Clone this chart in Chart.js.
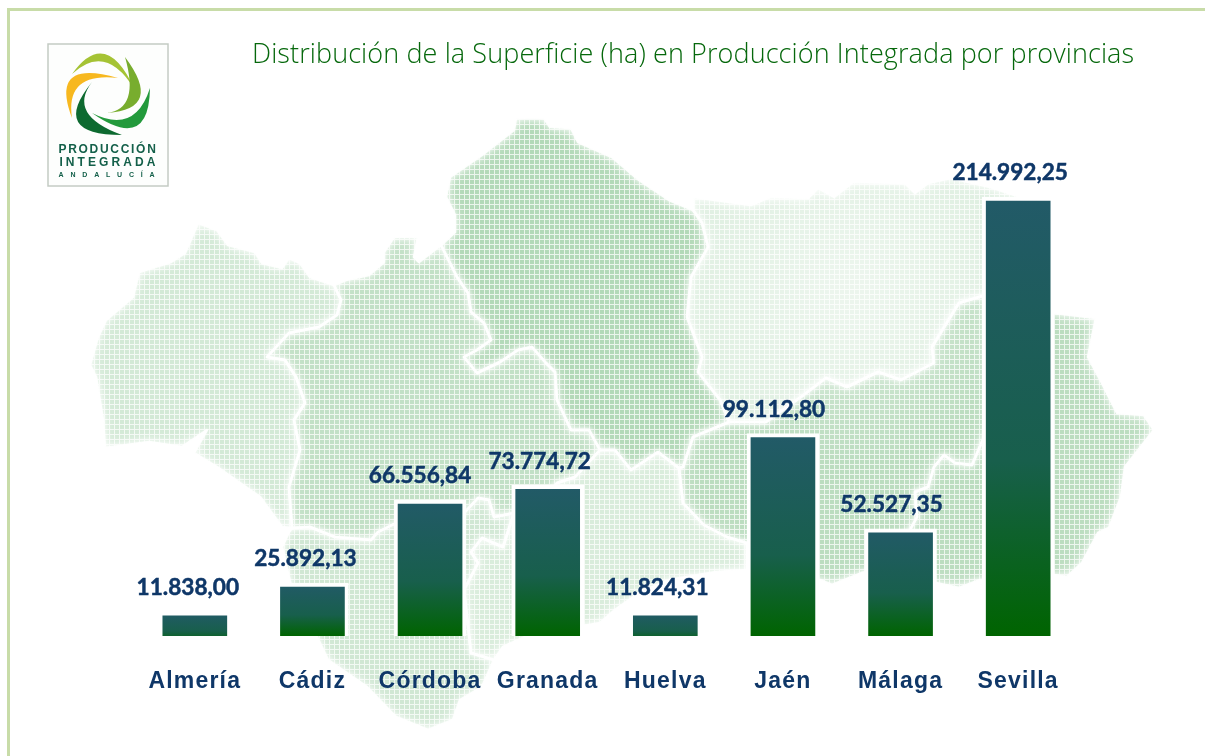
<!DOCTYPE html>
<html lang="es">
<head>
<meta charset="utf-8">
<title>Producción Integrada por provincias</title>
<script src="https://cdn.jsdelivr.net/npm/chart.js@4"></script>
<style>
    html, body { margin: 0; background: #fff; overflow: hidden; }
    #page { position: relative; width: 1205px; height: 756px; }
    #frame { position: absolute; left: 7px; top: 8px; right: 0; bottom: 0; border-left: 3px solid #c8dca8; border-top: 3px solid #c8dca8; }
    #trendChart { position: absolute; left: 0; top: 0; }
    h1 { position: absolute; left: 252px; top: 34px; margin: 0; white-space: nowrap; font: 300 27px "Open Sans", sans-serif; color: #06680c; letter-spacing: 0.1px; }
</style>
</head>
<body>
<div id="page">
    <div id="frame"></div>
    <canvas id="trendChart" width="1205" height="756"></canvas>
    <h1>Distribución de la Superficie (ha) en Producción Integrada por provincias</h1>
</div>
<script>
// Chart data
const provinces = ['Almería', 'Cádiz', 'Córdoba', 'Granada', 'Huelva', 'Jaén', 'Málaga', 'Sevilla'];
const hectares = [11838.00, 25892.13, 66556.84, 73774.72, 11824.31, 99112.80, 52527.35, 214992.25];

// Value labels sit a little left of their bars in the original
const labelShift = [-7, -7, -10, -8, -8, -9, -9, -8];

// Map outlines behind the bars, page pixels
const mapHuelva = [[90,365],[98,337],[106,320],[133,297],[139,272],[171,262],[185,253],[198,223],[217,230],[228,245],[255,252],[262,263],[282,268],[289,258],[300,263],[310,277],[334,285],[341,300],[337,315],[319,327],[289,333],[267,357],[285,360],[296,377],[305,403],[294,420],[300,450],[289,487],[292,528],[282,527],[260,497],[217,467],[194,453],[207,430],[182,447],[149,442],[105,448],[103,420],[96,377]];
const mapSevilla = [[334,285],[346,280],[369,275],[384,262],[384,252],[394,237],[418,237],[414,257],[419,262],[441,245],[457,277],[468,293],[471,312],[484,323],[491,340],[477,350],[464,357],[477,373],[500,362],[518,350],[532,347],[546,363],[555,372],[557,400],[571,430],[589,430],[600,450],[575,477],[557,483],[540,505],[514,513],[494,517],[489,500],[478,498],[464,513],[396,523],[378,532],[371,540],[335,537],[310,527],[292,528],[289,487],[300,450],[294,420],[305,403],[296,377],[285,360],[267,357],[289,333],[319,327],[337,315],[341,300]];
const mapCordoba = [[516,118],[544,118],[550,127],[571,128],[578,142],[612,157],[639,180],[669,200],[693,210],[702,223],[708,247],[691,277],[687,317],[702,357],[698,372],[720,400],[729,422],[693,437],[683,467],[679,468],[658,452],[631,470],[615,450],[600,450],[589,430],[571,430],[557,400],[555,372],[546,363],[532,347],[518,350],[500,362],[477,373],[464,357],[477,350],[491,340],[484,323],[471,312],[468,293],[457,277],[441,245],[455,232],[455,215],[446,197],[450,177],[482,155],[514,130]];
const mapJaen = [[693,197],[751,205],[770,197],[808,198],[818,188],[834,197],[853,182],[905,183],[915,193],[928,183],[951,178],[990,187],[1030,200],[1040,300],[986,295],[959,303],[932,347],[934,363],[901,380],[878,372],[847,387],[826,378],[801,397],[766,422],[729,422],[720,400],[698,372],[702,357],[687,317],[691,277],[708,247],[702,223],[693,210]];
const mapGranada = [[729,422],[766,422],[801,397],[826,378],[847,387],[878,372],[901,380],[934,363],[932,347],[959,303],[986,295],[990,423],[972,465],[955,463],[944,455],[934,467],[928,487],[915,492],[917,517],[911,528],[880,570],[862,573],[832,585],[820,580],[747,570],[747,543],[727,537],[704,525],[683,503],[679,468],[683,467],[693,437]];
const mapAlmeria = [[986,295],[1040,300],[1054,313],[1096,318],[1088,357],[1102,383],[1117,413],[1144,415],[1154,430],[1125,467],[1121,497],[1109,528],[1098,533],[1082,563],[1067,577],[1054,575],[1000,580],[980,580],[959,588],[936,583],[862,573],[880,570],[911,528],[917,517],[915,492],[928,487],[934,467],[944,455],[955,463],[972,465],[990,423]];
const mapMalaga = [[600,450],[615,450],[631,470],[658,452],[679,468],[683,503],[704,525],[727,537],[747,543],[747,570],[716,572],[669,580],[639,593],[615,610],[600,623],[561,630],[525,637],[503,647],[494,660],[471,653],[464,590],[478,563],[471,552],[482,538],[503,547],[514,513],[540,505],[557,483],[575,477]];
const mapCadiz = [[292,528],[310,527],[335,537],[371,540],[378,532],[396,523],[464,513],[478,498],[489,500],[494,517],[514,513],[503,547],[482,538],[471,552],[478,563],[464,590],[471,653],[494,660],[482,687],[460,700],[453,720],[428,730],[396,717],[367,687],[328,660],[317,637],[292,590],[282,547],[289,532]];
const mapRegions = [[mapHuelva, 0.58], [mapSevilla, 0.8], [mapCordoba, 1], [mapJaen, 0.42], [mapGranada, 0.88], [mapAlmeria, 0.88], [mapMalaga, 0.5], [mapCadiz, 0.62]];

// "214.992,25" style labels
function formatHa(v) {
    const [whole, dec] = v.toFixed(2).split('.');
    return whole.replace(/\B(?=(\d{3})+$)/g, '.') + ',' + dec;
}

function tracePoly(ctx, pts) {
    ctx.beginPath();
    pts.forEach((p, i) => i ? ctx.lineTo(p[0], p[1]) : ctx.moveTo(p[0], p[1]));
    ctx.closePath();
}

function newLayer() {
    const layer = document.createElement('canvas');
    layer.width = 1205;
    layer.height = 756;
    return layer;
}

// Small grid tile used to fill the map
function makeTile(ctx) {
    const tile = document.createElement('canvas');
    tile.width = tile.height = 5;
    const t = tile.getContext('2d');
    t.fillStyle = '#b3d9b8';
    t.fillRect(0, 0, 5, 5);
    t.fillStyle = '#ebf5ec';
    t.fillRect(0, 4, 5, 1);
    t.fillRect(4, 0, 1, 5);
    return ctx.createPattern(tile, 'repeat');
}

function drawMap(ctx) {
    const layer = newLayer();
    const m = layer.getContext('2d');
    const pattern = makeTile(m);
    m.lineJoin = 'round';
    mapRegions.forEach(([pts, alpha]) => {
        m.globalAlpha = alpha;
        m.fillStyle = pattern;
        tracePoly(m, pts);
        m.fill();
    });
    m.globalAlpha = 1;

    // Jaén washes out towards its middle
    const wash = m.createRadialGradient(850, 290, 20, 850, 290, 170);
    wash.addColorStop(0, 'rgba(255,255,255,0.4)');
    wash.addColorStop(1, 'rgba(255,255,255,0)');
    m.globalCompositeOperation = 'source-atop';
    m.fillStyle = wash;
    m.fillRect(680, 120, 340, 340);

    // white borders between provinces
    m.strokeStyle = 'rgba(255,255,255,0.95)';
    m.shadowColor = 'rgba(255,255,255,0.9)';
    m.shadowBlur = 5;
    m.lineWidth = 2.5;
    mapRegions.forEach(([pts]) => {
        tracePoly(m, pts);
        m.stroke();
    });
    m.shadowBlur = 0;

    // feather the coast: keep the map only through a blurred copy of its shape
    const mask = newLayer();
    const k = mask.getContext('2d');
    k.filter = 'blur(7px)';
    k.fillStyle = '#000';
    mapRegions.forEach(([pts]) => {
        tracePoly(k, pts);
        k.fill();
    });
    m.globalCompositeOperation = 'destination-in';
    m.drawImage(mask, 0, 0);

    ctx.save();
    ctx.filter = 'blur(0.4px)';
    ctx.drawImage(layer, 0, 0);
    ctx.restore();
}

function crescent(ctx, a, c1, b, c2, color) {
    ctx.beginPath();
    ctx.moveTo(a[0], a[1]);
    ctx.quadraticCurveTo(c1[0], c1[1], b[0], b[1]);
    ctx.quadraticCurveTo(c2[0], c2[1], a[0], a[1]);
    ctx.fillStyle = color;
    ctx.fill();
}

function drawLogo(ctx) {
    ctx.save();
    ctx.fillStyle = '#fdfefd';
    ctx.strokeStyle = '#c4cbc4';
    ctx.lineWidth = 1.5;
    ctx.fillRect(48, 44, 120, 142);
    ctx.strokeRect(48, 44, 120, 142);
    crescent(ctx, [72, 74], [106, 26], [135, 90], [106, 42], '#a5c334');
    crescent(ctx, [118, 78], [49, 58], [72, 118], [65, 72], '#f7b81f');
    crescent(ctx, [125, 57], [164, 109], [107, 113], [140, 109], '#78ad2e');
    crescent(ctx, [150, 88], [149, 153], [92, 113], [135, 135], '#239a3c');
    crescent(ctx, [92, 82], [49, 135], [122, 135], [67, 115], '#0d6a30');
    ctx.fillStyle = '#14604a';
    ctx.textAlign = 'center';
    ctx.textBaseline = 'middle';
    ctx.font = 'bold 12px "Liberation Sans"';
    ctx.letterSpacing = '1.7px';
    ctx.fillText('PRODUCCIÓN', 108, 150);
    ctx.letterSpacing = '3.1px';
    ctx.fillText('INTEGRADA', 109, 163);
    ctx.font = 'bold 7px "Liberation Sans"';
    ctx.letterSpacing = '6.8px';
    ctx.fillText('ANDALUCÍA', 110, 175);
    ctx.restore();
}

// Background map and logo go under the chart, value labels over it
const backdropPlugin = {
    id: 'backdrop',
    beforeDraw(chart) {
        drawMap(chart.ctx);
        drawLogo(chart.ctx);
        chart.ctx.letterSpacing = '1.2px'; // spaced category labels
    },
    afterDatasetsDraw(chart) {
        const ctx = chart.ctx;
        ctx.save();
        ctx.letterSpacing = '0px';
        ctx.font = 'bold 22.6px Lato';
        ctx.fillStyle = '#0f3768';
        ctx.strokeStyle = '#0f3768';
        ctx.lineWidth = 0.5;
        ctx.textAlign = 'center';
        ctx.textBaseline = 'middle';
        chart.getDatasetMeta(0).data.forEach((bar, i) => {
            const x = bar.x + labelShift[i];
            const y = bar.y - 24;
            ctx.fillText(formatHa(hectares[i]), x, y);
            ctx.strokeText(formatHa(hectares[i]), x, y);
        });
        ctx.restore();
    }
};

new Chart(document.getElementById('trendChart').getContext('2d'), {
    type: 'bar',
    plugins: [backdropPlugin],
    data: {
        labels: provinces,
        datasets: [{
            data: hectares,
            barThickness: 72,
            borderWidth: 4,
            borderColor: '#ffffff',
            borderSkipped: 'bottom',
            backgroundColor(c) {
                const { chart, dataIndex } = c;
                if (!chart.chartArea) return '#1c5f50';
                const y = chart.scales.y;
                const top = y.getPixelForValue(hectares[dataIndex]);
                // short bars never reach the full green of the tall ones
                const end = Math.max(y.getPixelForValue(0), top + 32);
                const g = chart.ctx.createLinearGradient(0, top, 0, end);
                g.addColorStop(0, '#225a68');
                g.addColorStop(0.6, '#185f4c');
                g.addColorStop(1, '#006400');
                return g;
            }
        }]
    },
    options: {
        responsive: false,
        animation: false,
        layout: { padding: { left: 136, right: 128, top: 125.5, bottom: 0 } },
        plugins: { legend: { display: false }, tooltip: { enabled: false } },
        scales: {
            x: {
                grid: { display: false },
                border: { display: false },
                afterFit(scale) { scale.height = 120; },
                ticks: {
                    autoSkip: false,
                    maxRotation: 0,
                    padding: 24,
                    color: '#0f3768',
                    font: { family: '"Liberation Sans"', size: 23, weight: 'bold' }
                }
            },
            y: { display: false, min: 0, max: 250000 }
        }
    }
});
</script>
</body>
</html>
